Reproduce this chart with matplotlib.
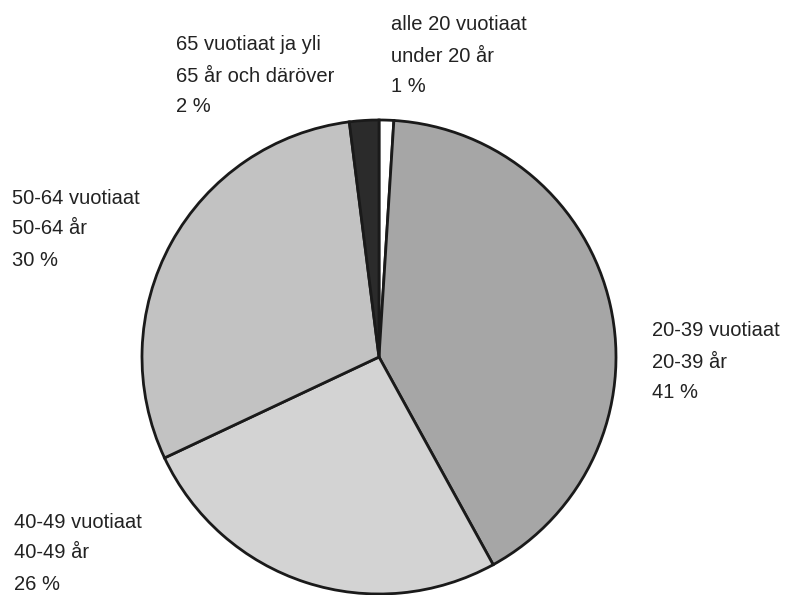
import matplotlib.pyplot as plt

plt.rcParams['font.family'] = ['Liberation Sans', 'DejaVu Sans']

# slices clockwise from the top
groups_fi = ["alle 20 vuotiaat", "20-39 vuotiaat", "40-49 vuotiaat", "50-64 vuotiaat", "65 vuotiaat ja yli"]
groups_sv = ["under 20 år", "20-39 år", "40-49 år", "50-64 år", "65 år och däröver"]
shares = [1, 41, 26, 30, 2]
colors = ["#ffffff", "#a6a6a6", "#d3d3d3", "#c2c2c2", "#2b2b2b"]

# label anchor (left x, centre of first line) in image pixels
label_x = [391, 652, 14, 12, 176]
label_y = [25, 331, 522, 198, 45]
line_gap = 31

W, H = 787, 595
fig = plt.figure(figsize=(W / 100, H / 100), dpi=100)
ax = fig.add_axes([0, 0, 1, 1])
ax.set_xlim(0, W)
ax.set_ylim(0, H)
ax.set_aspect("equal")
ax.axis("off")

cx, cy, r = 379, H - 357, 237
ax.pie(shares, colors=colors, startangle=90, counterclock=False,
       center=(cx, cy), radius=r, frame=True,
       wedgeprops=dict(edgecolor="#1a1a1a", linewidth=2.0))
ax.set_xlim(0, W)
ax.set_ylim(0, H)
ax.axis("off")

for i in range(len(shares)):
	lines = [groups_fi[i], groups_sv[i], f"{shares[i]} %"]
	for k, s in enumerate(lines):
		ax.text(label_x[i], H - (label_y[i] + k * line_gap), s,
		        fontsize=14.5, color="#222222", ha="left", va="center")

fig.savefig("out.png", dpi=100)
